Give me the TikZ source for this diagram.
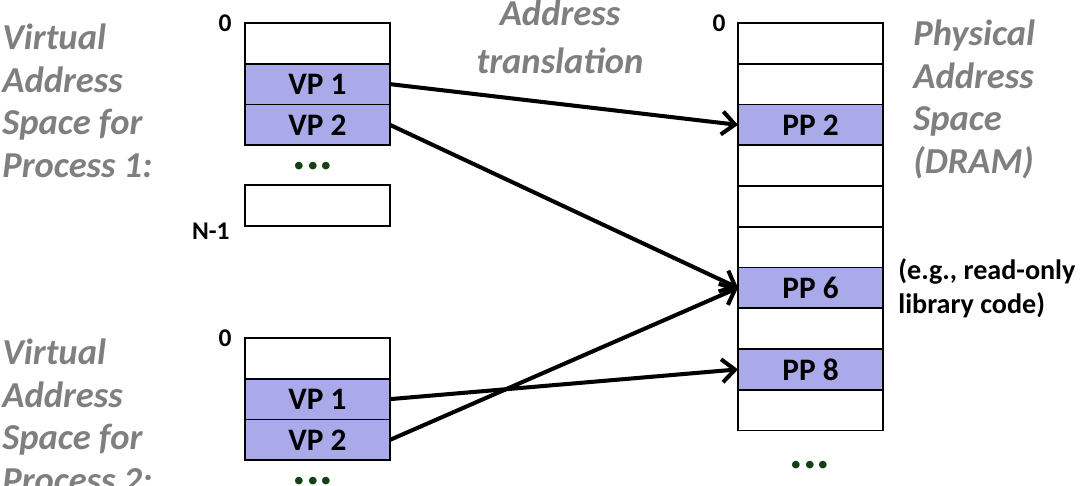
\documentclass[tikz,border=0pt]{standalone}
\usepackage{fontspec}
\setmainfont{Carlito}
\usetikzlibrary{positioning, arrows.meta}
\definecolor{pagefill}{RGB}{170,170,235}
\definecolor{notegray}{RGB}{127,127,127}
\definecolor{dotgreen}{RGB}{20,65,20}

\begin{document}
\begin{tikzpicture}[>={Straight Barb[length=0.26cm,width=0.46cm]}, node distance=0.815cm,
      cell/.style={rectangle, draw, line width=1.1pt, minimum width=2.9cm, minimum height=0.815cm,
                   inner sep=0pt, outer sep=0pt, font=\fontsize{17.8}{20}\selectfont\bfseries},
      page/.style={cell, fill=pagefill},
      addr/.style={inner sep=0pt, font=\fontsize{14.5}{17}\selectfont\bfseries},
      title/.style={text=notegray, align=left, inner sep=0pt, font=\fontsize{20.8}{24.1}\selectfont\bfseries\itshape},
      more/.style={text=dotgreen, inner sep=0pt, font=\fontsize{29}{32}\selectfont\bfseries},
      map/.style={->, line width=2.3pt}]

  \useasboundingbox (0,0) rectangle (21.6,-9.7);

  % virtual address space, process 1
  \node[cell] (a0) at (6.35,-0.8675) {};
  \node[page] (a1) [below of=a0] {VP 1};
  \node[page] (a2) [below of=a1] {VP 2};
  \node[more] (adots) at (6.26,-3.32) {...};
  \node[cell] (aN) at (6.35,-4.11) {};
  \node[addr, anchor=east] (a0-txt) at ([xshift=-0.26cm]a0.north west) {0};
  \node[addr, anchor=east] (aN-txt) at ([xshift=-0.3cm,yshift=-0.1cm]aN.south west) {N-1};
  \node[title, anchor=base west] (vas1) at (0.04,-3.54) {Virtual\\Address\\Space for\\Process 1:};

  % virtual address space, process 2
  \node[cell] (b0) at (6.35,-7.1675) {};
  \node[page] (b1) [below of=b0] {VP 1};
  \node[page] (b2) [below of=b1] {VP 2};
  \node[more] (bdots) at (6.26,-9.62) {...};
  \node[addr, anchor=east] (b0-txt) at ([xshift=-0.26cm]b0.north west) {0};
  \node[title, anchor=base west] (vas2) at (0.04,-9.84) {Virtual\\Address\\Space for\\Process 2:};

  % physical memory
  \node[cell] (p0) at (16.21,-0.8675) {};
  \node[cell] (p1) [below of=p0] {};
  \node[page] (p2) [below of=p1] {PP 2};
  \node[cell] (p3) [below of=p2] {};
  \node[cell] (p4) [below of=p3] {};
  \node[cell] (p5) [below of=p4] {};
  \node[page] (p6) [below of=p5] {PP 6};
  \node[cell] (p7) [below of=p6] {};
  \node[page] (p8) [below of=p7] {PP 8};
  \node[cell] (p9) [below of=p8] {};
  \node[more] (pdots) at (16.2,-9.3) {...};
  \node[addr, anchor=east] (p0-txt) at ([xshift=-0.24cm]p0.north west) {0};
  \node[title, anchor=base west] (pas) at (18.26,-3.46) {Physical\\Address\\Space\\(DRAM)};
  \node[anchor=base west, align=left, inner sep=0pt, font=\fontsize{16}{18.8}\selectfont\bfseries] (shared) at (17.96,-6.26) {(e.g., read-only\\library code)};

  \node[title, align=center, anchor=base, font=\fontsize{20.8}{27.3}\selectfont\bfseries\itshape] (xlat) at (11.2,-1.46) {Address\\translation};

  % page mappings
  \draw[map] (a1.east) -- (p2.west);
  \draw[map] (a2.east) -- (p6.west);
  \draw[map] (b1.east) -- (p8.west);
  \draw[map] (b2.east) -- (p6.west);

\end{tikzpicture}
\end{document}
